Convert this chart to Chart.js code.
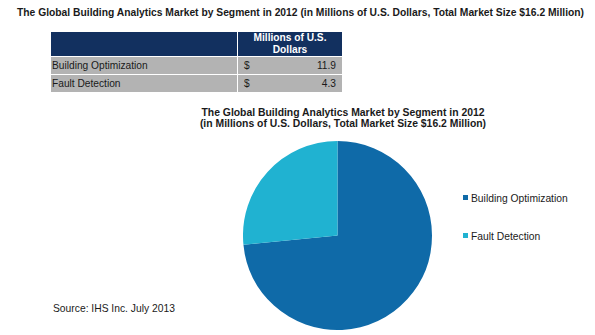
<!DOCTYPE html>
<html>
<head>
<meta charset="utf-8">
<script src="https://cdn.jsdelivr.net/npm/chart.js@4"></script>
<style>
  html, body { margin: 0; padding: 0; background: #fff; }
  body { width: 595px; height: 335px; position: relative; overflow: hidden;
         font-family: "Liberation Sans", Arial, sans-serif; color: #1a1a1a; }
  #titulo { position: absolute; left: 0; width: 601px; top: 7px; text-align: center;
            font-weight: bold; font-size: 10.3px; white-space: nowrap; }
  #tabela { position: absolute; left: 50px; top: 31px; border-collapse: collapse;
            font-size: 10.2px; }
  #tabela td, #tabela th { border: 1px solid #fff; padding: 0; }
  #tabela th { background: #12305f; color: #fff; font-weight: bold; height: 24px;
               line-height: 12px; }
  #tabela td { background: #b3b3b3; height: 17px; }
  #tabela td.rotulo { width: 185px; padding-left: 1px; }
  #tabela td.moeda { width: 92px; padding: 0 6px 0 6px; }
  #tabela td.moeda span { float: right; }
  #subtitulo { position: absolute; left: 143px; width: 400px; top: 107px; text-align: center;
               font-weight: bold; font-size: 10.4px; line-height: 11px; white-space: nowrap; }
  #grafico { position: absolute; left: 243px; top: 141px; }
  #legenda { position: absolute; left: 463px; top: 192px; font-size: 10.3px; }
  #legenda div { height: 38px; line-height: 14px; white-space: nowrap; }
  #legenda i { display: inline-block; width: 5px; height: 5px; margin-right: 3px;
               vertical-align: 2px; }
  #fonte { position: absolute; left: 53px; top: 303px; font-size: 10.3px; }
</style>
</head>
<body>
<div id="titulo">The Global Building Analytics Market by Segment in 2012 (in Millions of U.S. Dollars, Total Market Size $16.2 Million)</div>
<table id="tabela">
  <thead><tr><th></th><th>Millions of U.S.<br>Dollars</th></tr></thead>
  <tbody id="corpo"></tbody>
</table>
<div id="subtitulo">The Global Building Analytics Market by Segment in 2012<br>(in Millions of U.S. Dollars, Total Market Size $16.2 Million)</div>
<canvas id="grafico" width="189" height="189" style="width:189px;height:189px"></canvas>
<div id="legenda"></div>
<div id="fonte">Source: IHS Inc. July 2013</div>
<script>
const segmentos = ["Building Optimization", "Fault Detection"];
const valores = [11.9, 4.3];
const cores = ["#0f6aa8", "#20b2d1"];

// tabela a partir dos dados
const corpo = document.getElementById("corpo");
segmentos.forEach((s, i) => {
  const tr = document.createElement("tr");
  tr.innerHTML = `<td class="rotulo">${s}</td><td class="moeda">$<span>${valores[i].toFixed(1)}</span></td>`;
  corpo.appendChild(tr);
});

const ctx = document.getElementById("grafico").getContext("2d");
const chart = new Chart(ctx, {
  type: "pie",
  data: {
    labels: segmentos,
    datasets: [
      {
        data: valores,
        backgroundColor: cores,
        borderWidth: 0,
      },
    ],
  },
  options: {
    responsive: false,
    animation: false,
    layout: { padding: 0 },
    plugins: {
      legend: { display: false },
      tooltip: { enabled: false },
    },
  },
});

// legenda
const legenda = document.getElementById("legenda");
chart.data.labels.forEach((l, i) => {
  const item = document.createElement("div");
  item.innerHTML = `<i style="background:${cores[i]}"></i>${l}`;
  legenda.appendChild(item);
});
</script>
</body>
</html>
